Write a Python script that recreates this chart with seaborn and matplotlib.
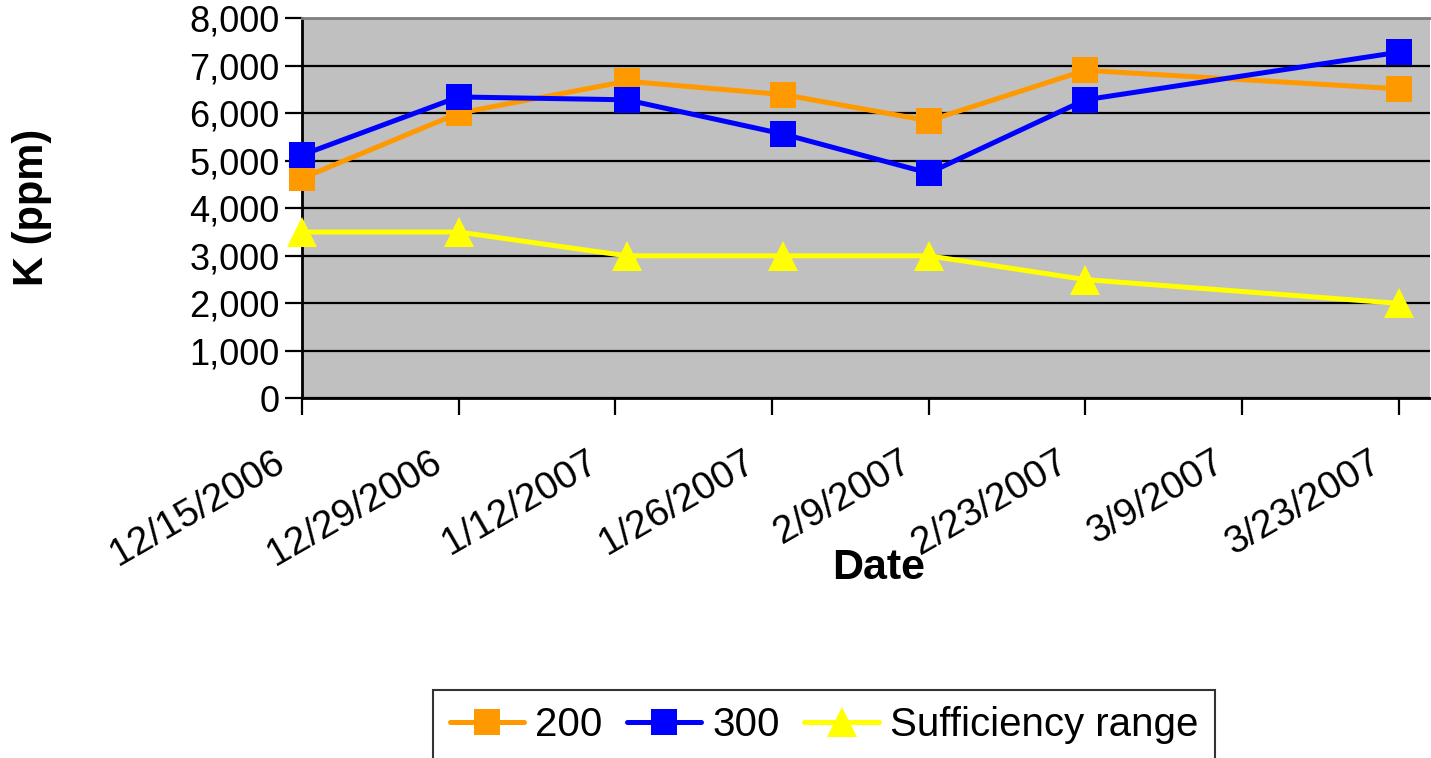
import pandas as pd
import matplotlib
matplotlib.use("Agg")
import matplotlib.pyplot as plt
import matplotlib.dates as mdates
from matplotlib.ticker import FuncFormatter, FixedLocator
from matplotlib.transforms import ScaledTranslation
import seaborn as sns

# values
dates = ["2006-12-15", "2006-12-29", "2007-01-13", "2007-01-27",
         "2007-02-09", "2007-02-23", "2007-03-23"]
k_200 = [4630, 6000, 6670, 6390, 5840, 6900, 6510]
k_300 = [5120, 6340, 6280, 5560, 4740, 6280, 7280]
k_suff = [3500, 3500, 3000, 3000, 3000, 2500, 2000]
tick_dates = ["2006-12-15", "2006-12-29", "2007-01-12", "2007-01-26",
              "2007-02-09", "2007-02-23", "2007-03-09", "2007-03-23"]
tick_labels = ["12/15/2006", "12/29/2006", "1/12/2007", "1/26/2007",
               "2/9/2007", "2/23/2007", "3/9/2007", "3/23/2007"]
series_names = ["200", "300", "Sufficiency range"]
colors = ["#FF9900", "#0000FF", "#FFFF00"]
markers = ["s", "s", "^"]

sns.set_style("white")
plt.rcParams["font.family"] = ["Liberation Sans", "DejaVu Sans"]
plt.rcParams["text.color"] = "black"
plt.rcParams["xtick.color"] = "black"
plt.rcParams["ytick.color"] = "black"

df = pd.DataFrame({
    "date": pd.to_datetime(dates * 3),
    "K": k_200 + k_300 + k_suff,
    "series": sum([[s] * len(dates) for s in series_names], []),
})

fig = plt.figure(figsize=(14.31, 7.58), dpi=100)
ax = fig.add_axes([302 / 1431, 1 - 398.5 / 758, 1128 / 1431, (398.5 - 18) / 758])
ax.set_facecolor("#C0C0C0")

for name, col, mk in zip(series_names, colors, markers):
    sub = df[df["series"] == name]
    sns.lineplot(data=sub, x="date", y="K", ax=ax, color=col, marker=mk,
                 markersize=19 if mk == "s" else 21, markeredgewidth=0,
                 linewidth=3.6, label=name, zorder=3, clip_on=False)

ax.set_ylim(0, 8000)
ax.set_yticks(range(0, 8001, 1000))
ax.yaxis.set_major_formatter(FuncFormatter(lambda v, p: f"{v:,.0f}"))
ax.grid(axis="y", color="black", linewidth=1.6)
ax.set_axisbelow(True)

td = pd.to_datetime(tick_dates)
ax.set_xlim(mdates.date2num(td[0]), mdates.date2num(td[-1]) + 2.8)
ax.xaxis.set_major_locator(FixedLocator(mdates.date2num(td)))
ax.set_xticklabels(tick_labels, rotation=30, ha="right", rotation_mode="anchor",
                   fontsize=28)

ax.tick_params(axis="y", labelsize=26, direction="out", length=12, width=1.6,
               left=True, pad=4)
ax.tick_params(axis="x", direction="out", length=12, width=1.6, bottom=True, pad=21)
shift = ScaledTranslation(-29 / 100, 0, fig.dpi_scale_trans)
for lbl in ax.get_xticklabels():
    lbl.set_transform(lbl.get_transform() + shift)

for s in ["left", "bottom"]:
    ax.spines[s].set_color("black")
    ax.spines[s].set_linewidth(2)
ax.spines["top"].set_color("#808080")
ax.spines["top"].set_linewidth(2)
ax.spines["right"].set_visible(False)
ax.set_xlabel("")
ax.set_ylabel("")

fig.text(879 / 1431, 1 - 568 / 758, "Date", fontsize=31, fontweight="bold",
         ha="center", va="center")
fig.text(32 / 1431, 1 - 207 / 758, "K (ppm)", fontsize=30, fontweight="bold",
         rotation=90, ha="center", va="center")

leg = ax.legend(loc="upper center", bbox_to_anchor=(824 / 1431, 1 - 690 / 758),
                bbox_transform=fig.transFigure, ncol=3, fontsize=29,
                frameon=True, fancybox=False, edgecolor="black",
                handlelength=1.85, handletextpad=0.28, columnspacing=0.6,
                borderpad=0.4, borderaxespad=0, markerscale=1.0)
leg.get_frame().set_linewidth(1.5)

fig.savefig("out.png", dpi=100)
